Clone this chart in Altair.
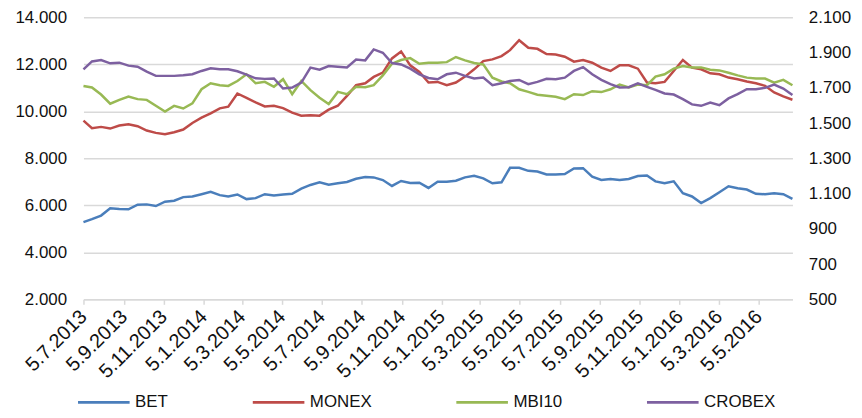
import altair as alt
import pandas as pd

names = ["BET", "MONEX", "MBI10", "CROBEX"]
colors = ["#4A7EBB", "#BE4B48", "#98B954", "#7D60A0"]

# biweekly observations, 5.7.2013 .. end of June 2016
dates = pd.date_range("2013-07-05", "2016-06-26", periods=79).strftime("%Y-%m-%d").tolist()

bet = [5286, 5412, 5566, 5874, 5846, 5832, 6028, 6042, 5972, 6154,
       6196, 6350, 6378, 6476, 6574, 6434, 6378, 6462, 6266, 6308,
       6476, 6420, 6462, 6490, 6714, 6868, 6980, 6882, 6938, 6994,
       7134, 7204, 7190, 7078, 6826, 7036, 6952, 6966, 6742, 7008,
       7008, 7050, 7190, 7260, 7148, 6938, 6980, 7596, 7596, 7470,
       7442, 7316, 7316, 7330, 7568, 7582, 7218, 7078, 7120, 7078,
       7120, 7246, 7274, 7022, 6938, 7022, 6518, 6378, 6100, 6308,
       6560, 6812, 6728, 6672, 6490, 6476, 6518, 6476, 6280]

monex = [9606, 9283, 9339, 9268, 9395, 9452, 9367, 9184, 9085, 9029,
         9114, 9226, 9508, 9733, 9916, 10127, 10198, 10761, 10578, 10381,
         10212, 10240, 10141, 9944, 9818, 9832, 9818, 10071, 10240, 10662,
         11113, 11197, 11465, 11648, 12253, 12550, 11958, 11676, 11226, 11254,
         11113, 11226, 11479, 11789, 12141, 12211, 12352, 12605, 13028, 12704,
         12662, 12436, 12422, 12324, 12113, 12183, 12070, 11859, 11718, 11958,
         11958, 11817, 11226, 11197, 11254, 11718, 12183, 11859, 11789, 11620,
         11578, 11437, 11366, 11268, 11197, 11085, 10803, 10634, 10493]

mbi10 = [1711, 1702, 1662, 1610, 1632, 1651, 1636, 1632, 1598, 1565,
         1598, 1583, 1612, 1692, 1726, 1715, 1711, 1739, 1777, 1726,
         1734, 1706, 1749, 1664, 1739, 1687, 1644, 1608, 1677, 1664,
         1706, 1704, 1715, 1771, 1837, 1858, 1869, 1837, 1843, 1843,
         1846, 1875, 1856, 1841, 1833, 1758, 1736, 1726, 1692, 1677,
         1661, 1655, 1649, 1636, 1664, 1659, 1681, 1676, 1692, 1719,
         1702, 1719, 1715, 1764, 1777, 1809, 1824, 1815, 1816, 1803,
         1799, 1786, 1771, 1758, 1753, 1753, 1730, 1745, 1715]

crobex = [1805, 1850, 1858, 1839, 1843, 1826, 1820, 1792, 1768, 1768,
          1768, 1771, 1777, 1796, 1811, 1805, 1805, 1794, 1775, 1754,
          1751, 1753, 1696, 1702, 1730, 1815, 1803, 1824, 1820, 1816,
          1861, 1856, 1918, 1899, 1841, 1833, 1809, 1777, 1756, 1749,
          1777, 1786, 1768, 1753, 1758, 1715, 1726, 1739, 1745, 1721,
          1734, 1751, 1749, 1758, 1796, 1818, 1777, 1745, 1721, 1702,
          1704, 1726, 1706, 1689, 1668, 1662, 1636, 1606, 1598, 1617,
          1602, 1640, 1664, 1692, 1692, 1700, 1719, 1696, 1659]

left_ticks = [2000, 4000, 6000, 8000, 10000, 12000, 14000]
right_ticks = [500, 700, 900, 1100, 1300, 1500, 1700, 1900, 2100]
x_ticks = [(2013, 7), (2013, 9), (2013, 11), (2014, 1), (2014, 3), (2014, 5),
           (2014, 7), (2014, 9), (2014, 11), (2015, 1), (2015, 3), (2015, 5),
           (2015, 7), (2015, 9), (2015, 11), (2016, 1), (2016, 3), (2016, 5)]

n = len(dates)
df_left = pd.DataFrame({"date": dates * 2, "value": bet + monex,
                        "series": ["BET"] * n + ["MONEX"] * n})
df_right = pd.DataFrame({"date": dates * 2, "value": mbi10 + crobex,
                         "series": ["MBI10"] * n + ["CROBEX"] * n})

FONT = "Liberation Sans"
FS = 17
GRID = "#D9D9D9"
TXT = "#111111"

x_enc = alt.X(
    "date:T",
    scale=alt.Scale(type="utc",
                    domain=[alt.DateTime(year=2013, month=7, date=5, utc=True),
                            alt.DateTime(year=2016, month=6, date=26, utc=True)]),
    axis=alt.Axis(
        values=[alt.DateTime(year=y, month=m, date=5, utc=True) for y, m in x_ticks],
        labelExpr="utcdate(datum.value) + '.' + (utcmonth(datum.value) + 1) + '.' + utcyear(datum.value)",
        labelAngle=-45, labelAlign="right", labelBaseline="middle",
        labelPadding=9, tickSize=5, tickColor=GRID, tickWidth=1.5,
        domainColor=GRID, domainWidth=1.5, grid=False,
        labelFont=FONT, labelFontSize=20, labelColor=TXT, labelOverlap=False,
        labelFlush=False),
    title=None)

color_enc = alt.Color(
    "series:N",
    scale=alt.Scale(domain=names, range=colors),
    sort=names,
    legend=alt.Legend(
        title=None, orient="none", direction="horizontal",
        legendX=-7, legendY=360, padding=0,
        symbolType="stroke", symbolSize=2700, symbolStrokeWidth=3,
        labelFont=FONT, labelFontSize=FS, labelColor=TXT, labelOffset=4,
        columnPadding=78, columns=4))

left = alt.Chart(df_left).mark_line(strokeWidth=2.5).encode(
    x=x_enc,
    y=alt.Y("value:Q",
            scale=alt.Scale(domain=[2000, 14000], nice=False, zero=False),
            axis=alt.Axis(orient="left", values=left_ticks,
                          labelExpr="replace(format(datum.value, ','), ',', '.')",
                          grid=True, gridColor=GRID, gridWidth=1.5,
                          domain=False, ticks=False, labelPadding=17,
                          labelFont=FONT, labelFontSize=FS, labelColor=TXT),
            title=None),
    color=color_enc,
)

right = alt.Chart(df_right).mark_line(strokeWidth=2.5).encode(
    x=x_enc,
    y=alt.Y("value:Q",
            scale=alt.Scale(domain=[500, 2100], nice=False, zero=False),
            axis=alt.Axis(orient="right", values=right_ticks,
                          labelExpr="replace(format(datum.value, ','), ',', '.')",
                          grid=False, domain=False, ticks=False, labelPadding=16,
                          labelFont=FONT, labelFontSize=FS, labelColor=TXT),
            title=None),
    color=color_enc,
)

chart = alt.layer(left, right).resolve_scale(y="independent").properties(
    width=714, height=284,
    autosize=alt.AutoSizeParams(type="none"),
    padding={"left": 76, "top": 8, "right": 62, "bottom": 110},
).configure_view(stroke=None)

chart.save("out.html", embed_options={"renderer": "svg", "actions": False})
